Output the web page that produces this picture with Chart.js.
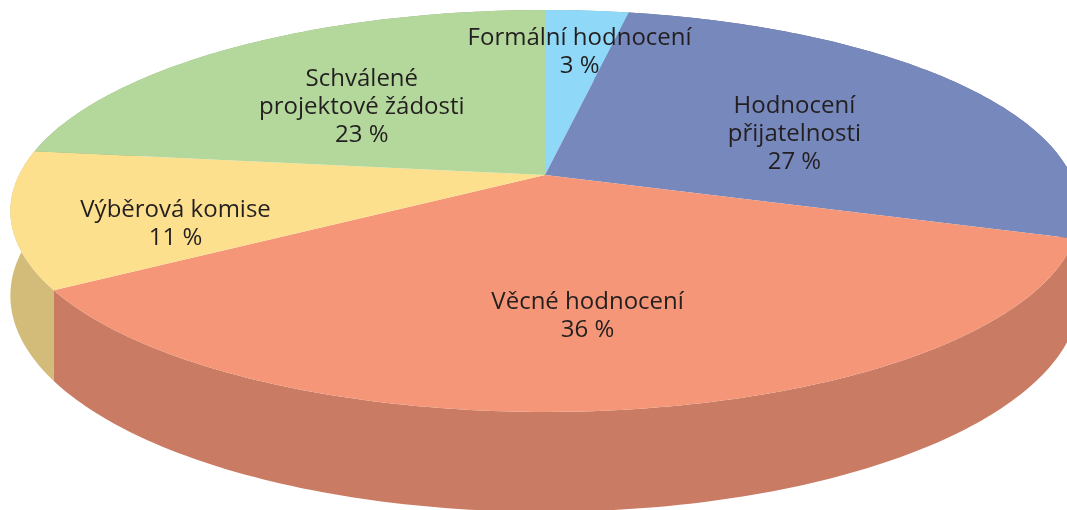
<!DOCTYPE html>
<html>
<head>
<meta charset="utf-8">
<script src="https://cdn.jsdelivr.net/npm/chart.js@4.4.1/dist/chart.umd.min.js"></script>
<style>
  html, body { margin: 0; padding: 0; background: #fff; }
  #wrap { width: 1067px; height: 510px; }
</style>
</head>
<body>
<div id="wrap"><canvas id="pieChart" width="1067" height="510"></canvas></div>
<script>
// categories (each one split into the lines shown on the chart)
const categories = [
    ['Formální hodnocení'],
    ['Hodnocení', 'přijatelnosti'],
    ['Věcné hodnocení'],
    ['Výběrová komise'],
    ['Schválené', 'projektové žádosti']
];
const shares = [3, 27, 36, 11, 23];
const topColors = ['#8fd8f7', '#7788bd', '#f49677', '#fde08e', '#b4d89c'];
const sideColors = ['#72adc6', '#5f6d97', '#c97b63', '#d3bc7a', '#90ad7d'];

// draws the arcs as a tilted 3D pie, using the angles the library computed
const pie3d = {
    id: 'pie3d',
    beforeDatasetsDraw(chart, args, opts) {
        const ctx = chart.ctx;
        const meta = chart.getDatasetMeta(0);
        const ds = chart.data.datasets[0];

        // perspective view of the pie disk
        const proj = (a, r, z) => {
            const u = r * Math.cos(a);
            const v = -r * Math.sin(a);
            const w = 1 + opts.tilt * v;
            return [opts.cx + opts.rx * u / w, opts.cy - opts.ry * v / w + z * opts.depth / w];
        };
        const steps = (a0, a1) => {
            const n = Math.max(2, Math.ceil(Math.abs(a1 - a0) / (Math.PI / 180)));
            const out = [];
            for (let i = 0; i <= n; i++) out.push(a0 + (a1 - a0) * i / n);
            return out;
        };

        ctx.save();

        // side walls, back to front
        const order = meta.data.map((arc, i) => i).sort((a, b) => {
            const ma = (meta.data[a].startAngle + meta.data[a].endAngle) / 2;
            const mb = (meta.data[b].startAngle + meta.data[b].endAngle) / 2;
            return Math.sin(ma) - Math.sin(mb);
        });
        order.forEach(i => {
            const arc = meta.data[i];
            const angs = steps(arc.startAngle, arc.endAngle);
            ctx.beginPath();
            angs.forEach((a, j) => {
                const p = proj(a, 1, 0);
                j === 0 ? ctx.moveTo(p[0], p[1]) : ctx.lineTo(p[0], p[1]);
            });
            angs.slice().reverse().forEach(a => {
                const p = proj(a, 1, 1);
                ctx.lineTo(p[0], p[1]);
            });
            ctx.closePath();
            ctx.fillStyle = ds.sideColor[i];
            ctx.fill();
        });

        // top faces
        const c = proj(0, 0, 0);
        meta.data.forEach((arc, i) => {
            ctx.beginPath();
            ctx.moveTo(c[0], c[1]);
            steps(arc.startAngle, arc.endAngle).forEach(a => {
                const p = proj(a, 1, 0);
                ctx.lineTo(p[0], p[1]);
            });
            ctx.closePath();
            ctx.fillStyle = ds.backgroundColor[i];
            ctx.fill();
        });

        // labels
        ctx.fillStyle = '#231f20';
        ctx.font = opts.font;
        ctx.textAlign = 'center';
        ctx.textBaseline = 'middle';
        meta.data.forEach((arc, i) => {
            const mid = (arc.startAngle + arc.endAngle) / 2;
            const p = proj(mid, opts.labelRadius[i], 0);
            const nudge = opts.labelNudge[i];
            const lines = chart.data.labels[i].concat([ds.data[i] + ' %']);
            const top = p[1] + nudge[1] - (lines.length - 1) * opts.lineHeight / 2;
            lines.forEach((t, j) => ctx.fillText(t, p[0] + nudge[0], top + j * opts.lineHeight));
        });

        ctx.restore();
        return false;
    }
};

const ctx = document.getElementById('pieChart').getContext('2d');
const pieChart = new Chart(ctx, {
    type: 'pie',
    data: {
        labels: categories,
        datasets: [{
            data: shares,
            backgroundColor: topColors,
            sideColor: sideColors,
            borderWidth: 0
        }]
    },
    options: {
        responsive: false,
        animation: false,
        layout: { padding: 0 },
        plugins: {
            legend: { display: false },
            tooltip: { enabled: false },
            pie3d: {
                cx: 545,
                cy: 175,
                rx: 526,
                ry: 194.5,
                tilt: 0.179,
                depth: 82,
                font: '24px "Open Sans"',
                lineHeight: 28,
                labelRadius: [0.72, 0.58, 0.64, 0.70, 0.55],
                labelNudge: [[3, 1], [0, 14], [-5, 2], [0, 19], [-5, 7]]
            }
        }
    },
    plugins: [pie3d]
});
</script>
</body>
</html>
